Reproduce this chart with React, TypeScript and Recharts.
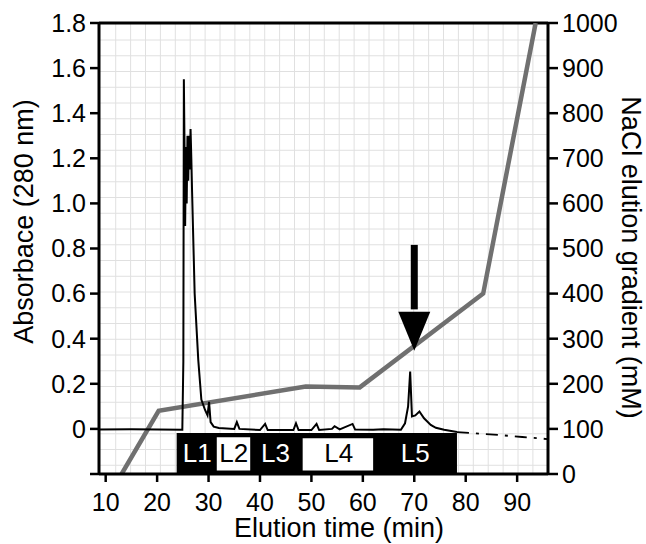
import React from 'react';
import {
  ComposedChart, Line, XAxis, YAxis, CartesianGrid, ReferenceArea, ReferenceLine, ReferenceDot,
} from 'recharts';

// Absorbance (280 nm) trace
const time = [8.7, 15, 20, 24.9, 25.1, 25.2, 25.35, 25.45, 25.6, 25.75, 25.9, 26.05, 26.2, 26.35, 26.5, 26.65, 26.8, 27.3, 28.0, 28.6, 29.3, 29.8, 30.1, 30.4, 31, 32, 35, 35.5, 36, 40, 41, 41.5, 46.5, 47, 47.5, 50, 51, 51.5, 54, 54.5, 55.5, 58, 58.5, 62, 64, 67.4, 68.2, 68.8, 69.2, 69.55, 70.2, 71.0, 71.9, 73.2, 74.2, 75.8, 78.3];
const absorbance = [-0.003, -0.002, -0.003, -0.004, 0.3, 1.55, 1.2, 0.9, 1.25, 1.0, 1.3, 1.1, 1.3, 1.15, 1.33, 1.2, 1.05, 0.6, 0.306, 0.13, 0.085, 0.06, 0.12, 0.03, 0.01, 0.004, 0.0, 0.03, 0.0, -0.005, 0.022, -0.005, -0.005, 0.025, -0.005, -0.005, 0.022, -0.005, 0.0, 0.012, -0.002, 0.022, -0.003, -0.004, -0.002, -0.004, 0.025, 0.1, 0.254, 0.055, 0.06, 0.077, 0.047, 0.018, 0.005, -0.004, -0.014];
// Baseline tail after the last peak
const tailTime = [78.3, 83, 87, 91, 95.9];
const tailAbs = [-0.014, -0.022, -0.028, -0.036, -0.045];

// NaCl gradient (mM)
const gradTime = [13.1, 20.3, 48.9, 59.4, 83.4, 93.6];
const gradNaCl = [0, 140, 194, 192, 400, 1000];

// Fraction bar
const barStart = 23.8;
const barEnd = 78.3;
const barTop = -0.018;
const fractionLabels = ['L1', 'L2', 'L3', 'L4', 'L5'];
const fractionCenters = [27.8, 34.9, 43.0, 55.3, 70.2];
const fractionLight = [false, true, false, true, false];
const lightBoxStart = [31.6, 48.3];
const lightBoxEnd = [38.1, 62.0];
const lightBoxTop = [-0.037, -0.041];
const lightBoxBottom = [-0.185, -0.185];

// Arrow
const arrowTime = 70;
const arrowTop = 0.816;
const arrowHeadTop = 0.52;
const arrowTip = 0.347;

const xTicks = [10, 20, 30, 40, 50, 60, 70, 80, 90];
const leftTicks = [-0.2, 0, 0.2, 0.4, 0.6, 0.8, 1.0, 1.2, 1.4, 1.6, 1.8];
const rightTicks = [0, 100, 200, 300, 400, 500, 600, 700, 800, 900, 1000];

const absData = time.map((t, i) => ({ t, a: absorbance[i] }));
const tailData = tailTime.map((t, i) => ({ t, a: tailAbs[i] }));
const gradData = gradTime.map((t, i) => ({ t, c: gradNaCl[i] }));

const FONT = '"Liberation Sans", Arial, Helvetica, sans-serif';

const XTitle = (props: any) => {
  const vb = props.viewBox;
  return (
    <text x={vb.x + vb.width / 2 + 15.5} y={vb.y + 63} textAnchor="middle" fontSize={27} fontFamily={FONT} fill="#000">
      Elution time (min)
    </text>
  );
};

const LeftTitle = (props: any) => {
  const vb = props.viewBox;
  const x = vb.x + 33;
  const y = vb.y + vb.height / 2 - 27;
  return (
    <text x={x} y={y} transform={`rotate(-90, ${x}, ${y})`} textAnchor="middle" fontSize={27} fontFamily={FONT} fill="#000">
      Absorbace (280 nm)
    </text>
  );
};

const RightTitle = (props: any) => {
  const vb = props.viewBox;
  const x = vb.x + 74;
  const y = vb.y + vb.height / 2 + 9;
  return (
    <text x={x} y={y} transform={`rotate(90, ${x}, ${y})`} textAnchor="middle" fontSize={27} fontFamily={FONT} fill="#000">
      NaCl elution gradient (mM)
    </text>
  );
};

const fmtLeft = (v: number) => (v < -0.1 ? '' : Math.abs(v) < 1e-9 ? '0' : v.toFixed(1));

export default function App() {
  return (
    <div style={{ position: 'absolute', left: 0, top: 0, width: 646, height: 544, background: '#fff' }}>
      <ComposedChart width={646} height={544} margin={{ top: 23, right: 0, bottom: 0, left: 0 }}>
        <CartesianGrid
          stroke="#e0e0e0"
          strokeWidth={1}
          verticalCoordinatesGenerator={(p: any) => {
            const o = p.offset;
            const arr: number[] = [];
            for (let x = o.left + 16.7; x < o.left + o.width - 1; x += 14.9) arr.push(x);
            return arr;
          }}
          horizontalCoordinatesGenerator={(p: any) => {
            const o = p.offset;
            const arr: number[] = [];
            for (let y = o.top + 17; y < o.top + o.height - 1; y += 15.75) arr.push(y);
            return arr;
          }}
        />
        <XAxis
          type="number"
          dataKey="t"
          domain={[8.7, 96]}
          ticks={xTicks}
          interval={0}
          allowDataOverflow
          height={70}
          tickSize={8}
          tickMargin={11}
          axisLine={{ stroke: '#000', strokeWidth: 3 }}
          tickLine={{ stroke: '#000', strokeWidth: 2.5 }}
          tick={{ fill: '#000', fontSize: 25, fontFamily: FONT }}
          label={{ content: XTitle }}
        />
        <YAxis
          yAxisId="left"
          type="number"
          domain={[-0.2, 1.8]}
          ticks={leftTicks}
          interval={0}
          allowDataOverflow
          width={99}
          tickSize={9}
          tickMargin={4}
          tickFormatter={fmtLeft}
          axisLine={{ stroke: '#000', strokeWidth: 3 }}
          tickLine={{ stroke: '#000', strokeWidth: 2.5 }}
          tick={{ fill: '#000', fontSize: 25, fontFamily: FONT }}
          label={{ content: LeftTitle }}
        />
        <YAxis
          yAxisId="right"
          orientation="right"
          type="number"
          domain={[0, 1000]}
          ticks={rightTicks}
          interval={0}
          allowDataOverflow
          width={98}
          tickSize={10}
          tickMargin={4}
          axisLine={{ stroke: '#000', strokeWidth: 3 }}
          tickLine={{ stroke: '#000', strokeWidth: 2.5 }}
          tick={{ fill: '#000', fontSize: 25, fontFamily: FONT }}
          label={{ content: RightTitle }}
        />
        <ReferenceLine yAxisId="left" y={1.8} stroke="#000" strokeWidth={3} />
        <Line yAxisId="right" data={gradData} dataKey="c" type="linear" stroke="#707070" strokeWidth={4.5} dot={false} isAnimationActive={false} />
        <Line yAxisId="left" data={absData} dataKey="a" type="linear" stroke="#000" strokeWidth={2} dot={false} isAnimationActive={false} />
        <Line yAxisId="left" data={tailData} dataKey="a" type="linear" stroke="#000" strokeWidth={1.8} strokeDasharray="12 7 3 7" dot={false} isAnimationActive={false} />
        <ReferenceArea yAxisId="left" x1={barStart} x2={barEnd} y1={-0.2} y2={barTop} fill="#000" fillOpacity={1} stroke="none" />
        {lightBoxStart.map((s, i) => (
          <ReferenceArea key={'lb' + i} yAxisId="left" x1={s} x2={lightBoxEnd[i]} y1={lightBoxBottom[i]} y2={lightBoxTop[i]} fill="#fff" fillOpacity={1} stroke="none" />
        ))}
        {fractionLabels.map((lab, i) => (
          <ReferenceDot
            key={lab}
            yAxisId="left"
            x={fractionCenters[i]}
            y={-0.106}
            r={1}
            shape={(p: any) => (
              <text x={p.cx} y={p.cy} textAnchor="middle" dominantBaseline="central" fontSize={26} fontFamily={FONT} fill={fractionLight[i] ? '#000' : '#fff'}>
                {lab}
              </text>
            )}
          />
        ))}
        <ReferenceLine
          yAxisId="left"
          segment={[{ x: arrowTime, y: arrowTop }, { x: arrowTime, y: arrowHeadTop + 0.01 }]}
          stroke="#000"
          strokeWidth={7}
        />
        <ReferenceDot
          yAxisId="left"
          x={arrowTime}
          y={arrowTip}
          r={1}
          shape={(p: any) => (
            <path d={`M${p.cx},${p.cy} L${p.cx - 16},${p.cy - 39} L${p.cx + 16},${p.cy - 39} Z`} fill="#000" />
          )}
        />
      </ComposedChart>
    </div>
  );
}
